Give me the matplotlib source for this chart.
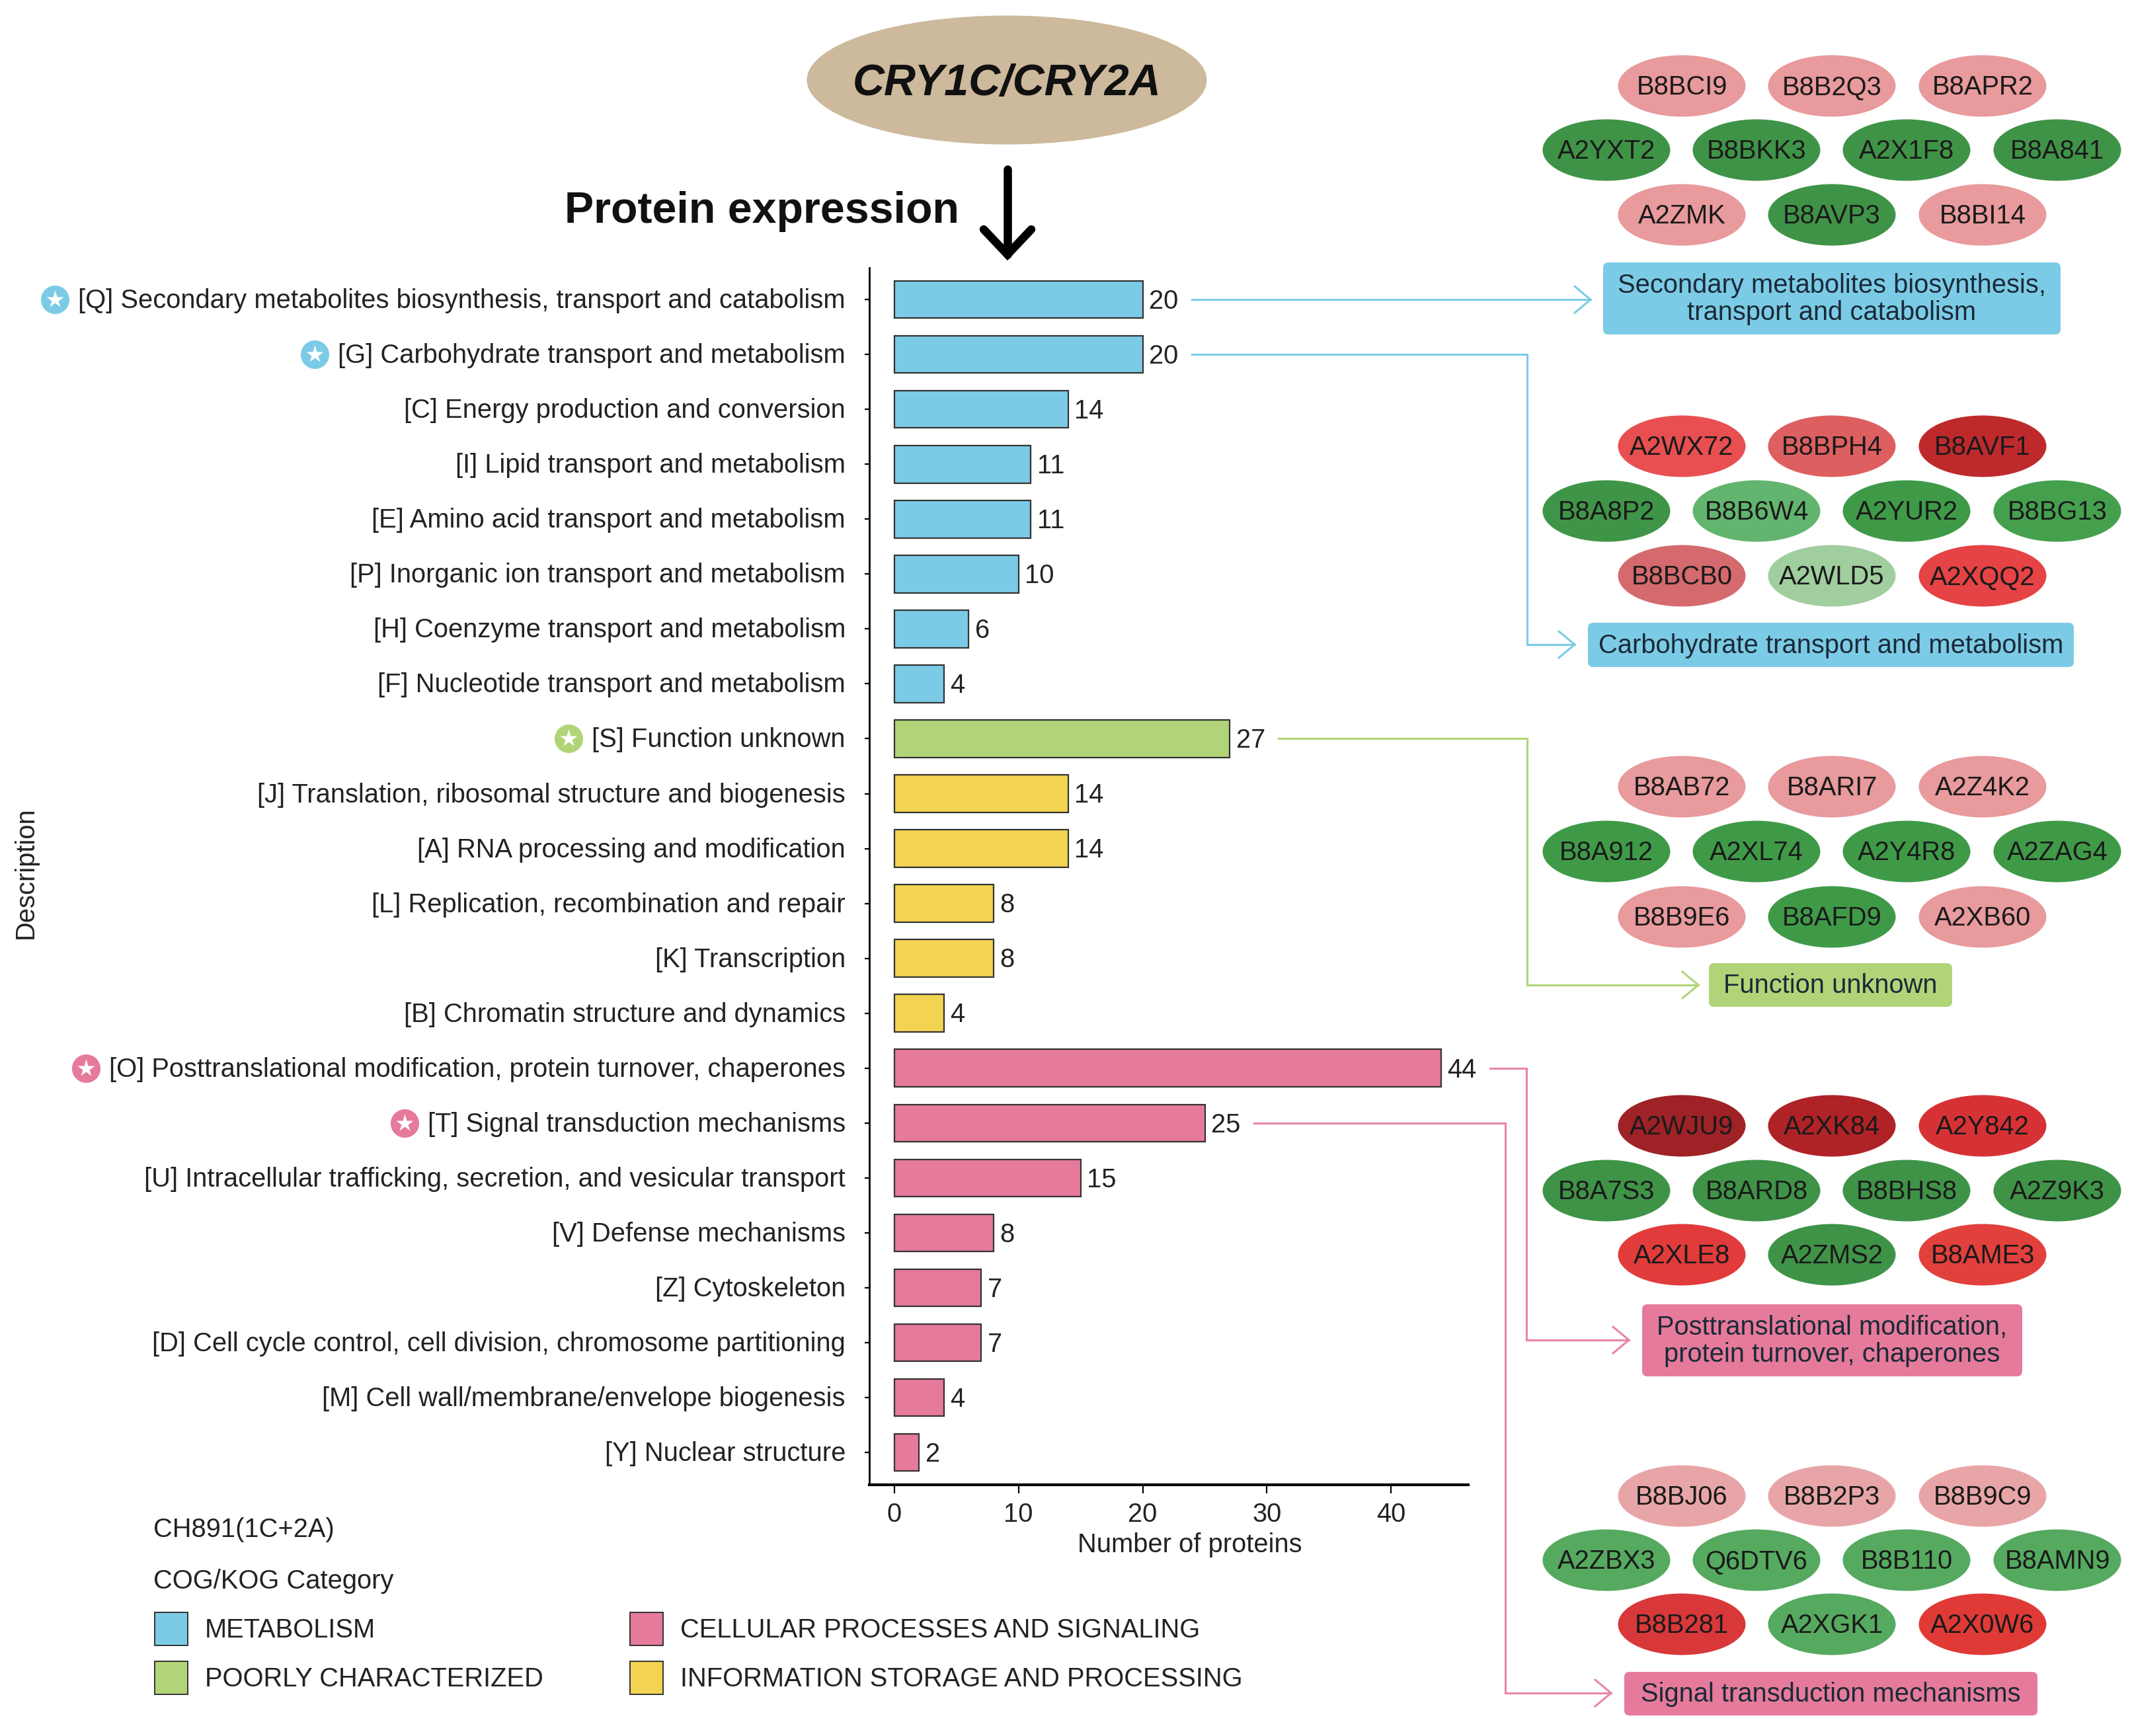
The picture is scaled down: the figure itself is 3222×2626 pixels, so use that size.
import matplotlib
matplotlib.use('Agg')
import matplotlib.pyplot as plt
from matplotlib.patches import Ellipse, FancyBboxPatch, Rectangle
from matplotlib.transforms import ScaledTranslation

plt.rcParams['font.family'] = ['Liberation Sans', 'DejaVu Sans']

W, H = 3222, 2626
DPI = 100

BLUE = '#7CCBE6'
GREEN = '#B1D478'
YELLOW = '#F3D352'
PINK = '#E67A9A'
TEXT = '#222222'
FS = 28.7

categories = [
    '[Q] Secondary metabolites biosynthesis, transport and catabolism',
    '[G] Carbohydrate transport and metabolism',
    '[C] Energy production and conversion',
    '[I] Lipid transport and metabolism',
    '[E] Amino acid transport and metabolism',
    '[P] Inorganic ion transport and metabolism',
    '[H] Coenzyme transport and metabolism',
    '[F] Nucleotide transport and metabolism',
    '[S] Function unknown',
    '[J] Translation, ribosomal structure and biogenesis',
    '[A] RNA processing and modification',
    '[L] Replication, recombination and repair',
    '[K] Transcription',
    '[B] Chromatin structure and dynamics',
    '[O] Posttranslational modification, protein turnover, chaperones',
    '[T] Signal transduction mechanisms',
    '[U] Intracellular trafficking, secretion, and vesicular transport',
    '[V] Defense mechanisms',
    '[Z] Cytoskeleton',
    '[D] Cell cycle control, cell division, chromosome partitioning',
    '[M] Cell wall/membrane/envelope biogenesis',
    '[Y] Nuclear structure',
]
counts = [20, 20, 14, 11, 11, 10, 6, 4, 27, 14, 14, 8, 8, 4, 44, 25, 15, 8, 7, 7, 4, 2]
bar_colors = [BLUE] * 8 + [GREEN] + [YELLOW] * 5 + [PINK] * 8

xticks = [0, 10, 20, 30, 40]

# protein ids per panel, rows are 3 / 4 / 3
ids_q = ['B8BCI9', 'B8B2Q3', 'B8APR2', 'A2YXT2', 'B8BKK3', 'A2X1F8', 'B8A841', 'A2ZMK', 'B8AVP3', 'B8BI14']
fills_q = ['#E89A9C', '#E89A9C', '#E89A9C', '#3F9347', '#3F9347', '#3F9347', '#3F9347', '#E89A9C', '#3F9347', '#E89A9C']
ids_g = ['A2WX72', 'B8BPH4', 'B8AVF1', 'B8A8P2', 'B8B6W4', 'A2YUR2', 'B8BG13', 'B8BCB0', 'A2WLD5', 'A2XQQ2']
fills_g = ['#E84F50', '#DD5F60', '#BE2A2C', '#3F9547', '#62B56E', '#3F9A48', '#45A04E', '#D46A6D', '#A0CE9E', '#E54345']
ids_s = ['B8AB72', 'B8ARI7', 'A2Z4K2', 'B8A912', 'A2XL74', 'A2Y4R8', 'A2ZAG4', 'B8B9E6', 'B8AFD9', 'A2XB60']
fills_s = ['#E89A9C', '#E89A9C', '#E89A9C', '#3F9A48', '#3F9A48', '#3F9A48', '#3F9A48', '#E89A9C', '#3F9A48', '#E89A9C']
ids_o = ['A2WJU9', 'A2XK84', 'A2Y842', 'B8A7S3', 'B8ARD8', 'B8BHS8', 'A2Z9K3', 'A2XLE8', 'A2ZMS2', 'B8AME3']
fills_o = ['#9E2226', '#AF2226', '#D63235', '#3F9347', '#3F9347', '#3F9347', '#3F9347', '#E23B3B', '#3F9347', '#E2403C']
ids_t = ['B8BJ06', 'B8B2P3', 'B8B9C9', 'A2ZBX3', 'Q6DTV6', 'B8B110', 'B8AMN9', 'B8B281', 'A2XGK1', 'A2X0W6']
fills_t = ['#E8A5A8', '#E8A5A8', '#E8A5A8', '#55AA5F', '#55AA5F', '#55AA5F', '#55AA5F', '#D8383A', '#55AA5F', '#E03A36']

legend_labels = ['METABOLISM', 'POORLY CHARACTERIZED', 'CELLULAR PROCESSES AND SIGNALING', 'INFORMATION STORAGE AND PROCESSING']
legend_colors = [BLUE, GREEN, PINK, YELLOW]

fig = plt.figure(figsize=(W / DPI, H / DPI), dpi=DPI)

# overlay in pixel coordinates for the diagram parts
over = fig.add_axes([0, 0, 1, 1])
over.set_xlim(0, W)
over.set_ylim(H, 0)
over.axis('off')

# bar chart
left, right, top, bottom = 1315, 2221, 405, 2246
ax = fig.add_axes([left / W, 1 - bottom / H, (right - left) / W, (bottom - top) / H])
ax.patch.set_alpha(0)
y = list(range(len(categories)))
ax.barh(y, counts, height=0.68, color=bar_colors, edgecolor='#333333', linewidth=1.6)
ax.set_xlim(-2.0, 46.2)
ax.set_ylim(21.59, -0.58)
ax.set_yticks(y)
ax.set_yticklabels(categories, fontsize=FS, color=TEXT)
ax.set_xticks(xticks)
ax.tick_params(axis='y', length=5, width=1.6, pad=21)
ax.tick_params(axis='x', length=9, width=1.6, pad=10, labelsize=FS, labelcolor=TEXT)
for side in ['top', 'right']:
    ax.spines[side].set_visible(False)
ax.spines['left'].set_linewidth(2)
ax.spines['bottom'].set_linewidth(3)
nudge = ScaledTranslation(0, 2 / DPI, fig.dpi_scale_trans)
for lab in ax.get_yticklabels():
    lab.set_transform(lab.get_transform() + nudge)
for i, v in enumerate(counts):
    ax.annotate(str(v), (v, i), xytext=(7, -2), textcoords='offset points',
                va='center', ha='left', fontsize=FS, color=TEXT)

over.text(1800, 2337, 'Number of proteins', fontsize=FS, color=TEXT, ha='center', va='center')
over.text(39, 1320, 'Description', fontsize=FS, color=TEXT, rotation=90, ha='center', va='center')


def bar_px(idx):
    px, py = ax.transData.transform((counts[idx], idx))
    return px, H - py


# star badges beside the five highlighted categories
renderer = fig.canvas.get_renderer()
for idx, col in [(0, BLUE), (1, BLUE), (8, GREEN), (14, PINK), (15, PINK)]:
    ext = ax.get_yticklabels()[idx].get_window_extent(renderer)
    cy = bar_px(idx)[1]
    over.plot(ext.x0 - 35, cy, 'o', ms=31, color=col, mec='none')
    over.plot(ext.x0 - 35, cy, '*', ms=20, color='white', mec='none')

# top part
over.add_patch(Ellipse((1523, 121), 605, 195, fc='#CDB99B', ec='none'))
over.text(1523, 127, 'CRY1C/CRY2A', fontsize=47.9, fontweight='bold', fontstyle='italic',
          color='#111111', ha='center', va='center')
over.text(1152, 320, 'Protein expression', fontsize=47.7, fontweight='bold', color='#111111',
          ha='center', va='center')
over.plot([1524, 1524], [256, 385], color='black', lw=9, solid_capstyle='round')
over.plot([1488, 1524, 1560], [347, 385, 347], color='black', lw=9,
          solid_capstyle='round', solid_joinstyle='miter')

# legend
over.text(232, 2314, 'CH891(1C+2A)', fontsize=FS, color=TEXT, va='center')
over.text(232, 2392, 'COG/KOG Category', fontsize=FS, color=TEXT, va='center')
legend_pos = [(234, 2439), (234, 2513), (953, 2439), (953, 2513)]
for (lx, ly), lab, col in zip(legend_pos, legend_labels, legend_colors):
    over.add_patch(Rectangle((lx, ly), 50, 50, fc=col, ec='#333333', lw=1.4))
    over.text(lx + 76, ly + 27, lab, fontsize=FS, color=TEXT, va='center')

# protein pills
row_short = [2544, 2771, 2999]
row_long = [2430, 2657, 2884, 3112]
panels = [
    (ids_q, fills_q, [130, 227, 325]),
    (ids_g, fills_g, [675, 773, 871]),
    (ids_s, fills_s, [1190, 1288, 1387]),
    (ids_o, fills_o, [1703, 1801, 1898]),
    (ids_t, fills_t, [2263, 2360, 2457]),
]
for ids, fills, rows in panels:
    xs = row_short + row_long + row_short
    ys = [rows[0]] * 3 + [rows[1]] * 4 + [rows[2]] * 3
    for px, py, name, col in zip(xs, ys, ids, fills):
        over.add_patch(Ellipse((px, py), 193, 93, fc=col, ec='none'))
        over.text(px, py + 2, name, fontsize=FS, color='#1a1a1a', ha='center', va='center')

# coloured name boxes
boxes = [
    (2425, 397, 3117, 506, BLUE, 'Secondary metabolites biosynthesis,\ntransport and catabolism'),
    (2402, 942, 3137, 1009, BLUE, 'Carbohydrate transport and metabolism'),
    (2585, 1457, 2953, 1523, GREEN, 'Function unknown'),
    (2484, 1973, 3059, 2082, PINK, 'Posttranslational modification,\nprotein turnover, chaperones'),
    (2457, 2529, 3082, 2595, PINK, 'Signal transduction mechanisms'),
]
for x0, y0, x1, y1, col, lab in boxes:
    over.add_patch(FancyBboxPatch((x0 + 6, y0 + 6), x1 - x0 - 12, y1 - y0 - 12,
                                  boxstyle='round,pad=6,rounding_size=8', fc=col, ec='none'))
    over.text((x0 + x1) / 2, (y0 + y1) / 2 + 1, lab, fontsize=FS, color='#1a2a38',
              ha='center', va='center', linespacing=1.08)

# connectors: (bar index, elbow x, target y, tip x, colour)
links = [
    (0, None, None, 2406, BLUE),
    (1, 2310, 975, 2382, BLUE),
    (8, 2310, 1490, 2569, GREEN),
    (14, 2309, 2027, 2464, '#E886A6'),
    (15, 2277, 2561, 2437, '#E886A6'),
]
for idx, elbow, ty, tip, col in links:
    bx, by = bar_px(idx)
    sx = bx + 74
    if elbow is None:
        xs, ys = [sx, tip], [by, by]
        ty = by
    else:
        xs, ys = [sx, elbow, elbow, tip], [by, by, ty, ty]
    over.plot(xs, ys, color=col, lw=2.2, solid_joinstyle='miter')
    over.plot([tip - 24, tip, tip - 24], [ty - 20, ty, ty + 20], color=col, lw=2.2)

fig.savefig('out.png', dpi=DPI)
